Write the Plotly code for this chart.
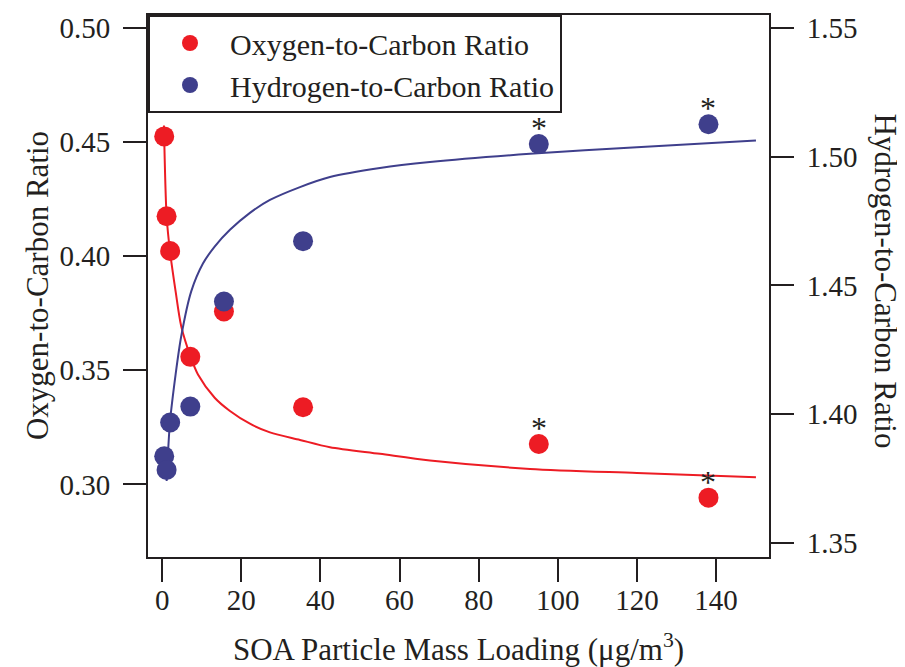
import plotly.graph_objects as go

# ---- data ----
soa_loading = [0.5, 1.1, 2.0, 7.1, 15.6, 35.6, 95.2, 138.1]
oc_ratio = [0.4525, 0.4175, 0.4023, 0.3559, 0.3758, 0.3338, 0.3177, 0.2942]
hc_ratio = [1.3837, 1.3784, 1.3968, 1.4030, 1.4438, 1.4672, 1.5049, 1.5126]
starred = [False, False, False, False, False, False, True, True]

oc_fit_x = [0.43, 1.11, 1.95, 3.39, 4.80, 7.18, 9.03, 13.25, 17.12, 22.17, 27.23, 34.82,
            42.40, 55.04, 67.69, 92.97, 120.0, 150.1]
oc_fit_y = [0.4573, 0.4175, 0.4023, 0.3845, 0.3693, 0.3559, 0.3482, 0.3380, 0.3322, 0.3266,
            0.3228, 0.3195, 0.3163, 0.3134, 0.3105, 0.3068, 0.3050, 0.3032]
hc_fit_x = [1.11, 1.95, 3.39, 4.80, 7.33, 10.29, 13.25, 17.12, 22.17, 27.23, 34.82, 42.40,
            55.04, 67.69, 92.97, 120.0, 150.1]
hc_fit_y = [1.3741, 1.3968, 1.4156, 1.4303, 1.4477, 1.4585, 1.4651, 1.4716, 1.4782, 1.4832,
            1.4882, 1.4921, 1.4956, 1.4979, 1.5011, 1.5037, 1.5063]

x_ticks = [0, 20, 40, 60, 80, 100, 120, 140]
oc_ticks = [0.30, 0.35, 0.40, 0.45, 0.50]
hc_ticks = [1.35, 1.40, 1.45, 1.50, 1.55]

RED = "#ED1C24"
BLUE = "#3F3F8C"
INK = "#231F20"
FONT = "Liberation Serif"
FS_TICK = 29
FS_TITLE = 31
FS_LEG = 30

fig = go.Figure()
fig.add_trace(go.Scatter(x=oc_fit_x, y=oc_fit_y, mode="lines",
                         line=dict(color=RED, width=2, shape="spline", smoothing=0.8),
                         showlegend=False, hoverinfo="skip"))
fig.add_trace(go.Scatter(x=soa_loading, y=oc_ratio, mode="markers", name="Oxygen-to-Carbon Ratio",
                         marker=dict(color=RED, size=20, line=dict(width=0))))
fig.add_trace(go.Scatter(x=hc_fit_x, y=hc_fit_y, mode="lines", yaxis="y2",
                         line=dict(color=BLUE, width=2, shape="spline", smoothing=0.8),
                         showlegend=False, hoverinfo="skip"))
fig.add_trace(go.Scatter(x=soa_loading, y=hc_ratio, mode="markers", yaxis="y2",
                         name="Hydrogen-to-Carbon Ratio",
                         marker=dict(color=BLUE, size=20, line=dict(width=0))))

annotations = []
for xv, oc, hc, s in zip(soa_loading, oc_ratio, hc_ratio, starred):
    if s:
        annotations.append(dict(x=xv, y=oc, xref="x", yref="y", text="*", showarrow=False,
                                yshift=16, font=dict(family=FONT, size=32, color=INK)))
        annotations.append(dict(x=xv, y=hc, xref="x", yref="y2", text="*", showarrow=False,
                                yshift=16, font=dict(family=FONT, size=32, color=INK)))

annotations.append(dict(text="Oxygen-to-Carbon Ratio", xref="paper", yref="paper",
                        x=-0.1787, y=0.5, xanchor="center", yanchor="middle",
                        textangle=-90, showarrow=False,
                        font=dict(family=FONT, size=FS_TITLE, color=INK)))
annotations.append(dict(text="Hydrogen-to-Carbon Ratio", xref="paper", yref="paper",
                        x=1.1868, y=0.51, xanchor="center", yanchor="middle",
                        textangle=90, showarrow=False,
                        font=dict(family=FONT, size=FS_TITLE, color=INK)))

axis_common = dict(showline=True, linewidth=2, linecolor=INK, ticks="outside", ticklen=23, tickwidth=2,
                   tickcolor=INK, showgrid=False, zeroline=False,
                   tickfont=dict(family=FONT, size=FS_TICK, color=INK))

# page body has an 8px default margin, so the figure is drawn 8px in from the top-left
fig.update_layout(
    width=897, height=659,
    margin=dict(l=140, r=136, t=4, b=110),
    plot_bgcolor="white", paper_bgcolor="white",
    font=dict(family=FONT, size=FS_TICK, color=INK),
    xaxis=dict(range=[-3.6, 153.4], tickvals=x_ticks, mirror=True, ticklabelstandoff=-7,
               title=dict(text="SOA Particle Mass Loading (μg/m<sup>3</sup>)", standoff=24,
                          font=dict(family=FONT, size=FS_TITLE, color=INK)),
               **axis_common),
    yaxis=dict(range=[0.2682, 0.5057], tickvals=oc_ticks, ticktext=[f"{v:.2f}" for v in oc_ticks],
               ticklabelstandoff=7, **axis_common),
    yaxis2=dict(range=[1.3446, 1.555], tickvals=hc_ticks, ticktext=[f"{v:.2f}" for v in hc_ticks],
                overlaying="y", side="right", ticklabelstandoff=7, **axis_common),
    legend=dict(x=0, y=1, xanchor="left", yanchor="top", bgcolor="white", bordercolor=INK, borderwidth=2,
                font=dict(family=FONT, size=FS_LEG, color=INK), itemwidth=70),
    annotations=annotations,
    showlegend=True,
)

fig.write_html("out.html")
